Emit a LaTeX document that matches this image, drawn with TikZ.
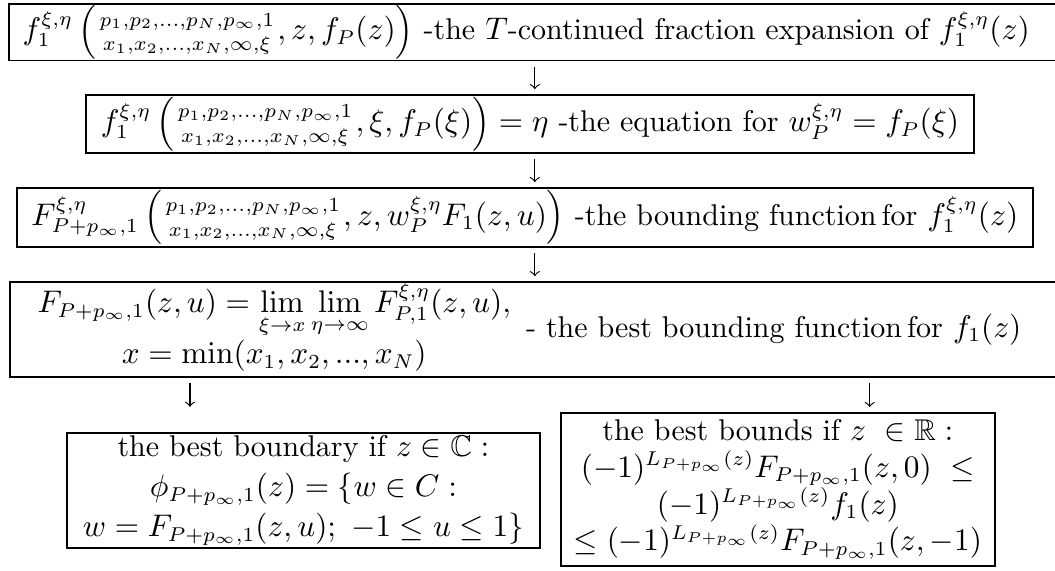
\documentclass[tikz,border=0pt]{standalone}
\usepackage{amsmath,amssymb}
\newcommand{\fracargs}{\genfrac{}{}{0pt}{1}{p_1,p_2,...,p_N,p_\infty,1}{x_1,x_2,...,x_N,\infty,\xi}}
\newcommand{\Lsign}{(-1)^{L_{P+p_\infty}(z)}}

\begin{document}
\begin{tikzpicture}[
  box/.style={draw,line width=0.6pt,inner sep=0pt,align=center,
    font=\fontsize{10.5}{12.9}\selectfont},
  widebox/.style={draw,line width=0.6pt,anchor=west,align=left,
    text width=13.2cm,inner ysep=0pt,font=\fontsize{10.5}{12.9}\selectfont},
  arr/.style={-to,shorten <=0.07cm,shorten >=0.06cm}]
  \useasboundingbox (0,0) rectangle (12.98,-7.02);
  \node[widebox,inner xsep=0.17cm,minimum height=0.70cm] (b1) at (0.098,-0.395)
    {$f_1^{\xi,\eta}\,\Bigl(\fracargs, z, f_P(z)\Bigr)$ -the $T$-continued fraction expansion of $f_1^{\xi,\eta}(z)$};
  \node[box,minimum width=10.92cm,minimum height=0.713cm] (b2) at (6.52,-1.525)
    {$f_1^{\xi,\eta}\,\Bigl(\fracargs, \xi, f_P(\xi)\Bigr) = \eta$ -the equation for $w_P^{\xi,\eta} = f_P(\xi)$};
  \node[box,minimum width=12.497cm,minimum height=0.726cm] (b3) at (6.457,-2.675)
    {$F^{\xi,\eta}_{P+p_\infty,1}\,\Bigl(\fracargs, z, w_P^{\xi,\eta}F_1(z,u)\Bigr)$ -the bounding function\,for $f_1^{\xi,\eta}(z)$};
  \node[widebox,inner xsep=0.34cm,minimum height=1.168cm] (b4) at (0.111,-4.053)
    {$\begin{array}{@{}c@{}}
      F_{P+p_\infty,1}(z,u) = \lim\limits_{\xi\to x}\lim\limits_{\eta\to\infty} F^{\xi,\eta}_{P,1}(z,u),\\
      x = \min(x_1, x_2, ..., x_N)
     \end{array}$\enspace - the best bounding function\,for $f_1(z)$};
  \node[box,minimum width=5.818cm,minimum height=1.414cm] (b5) at (3.733,-6.033)
    {the best boundary if $z \in \mathbb{C}:$\\[1pt]
     $\phi_{P+p_\infty,1}(z) = \{w \in C:$\\[1pt]
     $w = F_{P+p_\infty,1}(z,u);\ -1 \le u \le 1\}$};
  \node[box,minimum width=5.339cm,minimum height=1.882cm] (b6) at (9.57,-6.021)
    {the best bounds if $z\ \in \mathbb{R}:$\\
     $\Lsign F_{P+p_\infty,1}(z,0)\ \le$\\
     $\Lsign f_1(z)$\\
     $\le \Lsign F_{P+p_\infty,1}(z,-1)$};
  % arrow columns
  \coordinate (mid) at (6.58,0);
  \coordinate (lft) at (2.337,0);
  \coordinate (rgt) at (10.70,0);
  \draw[arr] (b1.south -| mid) -- (b2.north -| mid);
  \draw[arr] (b2.south -| mid) -- (b3.north -| mid);
  \draw[arr] (b3.south -| mid) -- (b4.north -| mid);
  \draw[arr,shorten >=0.31cm] (b4.south -| lft) -- (b5.north -| lft);
  \draw[arr] (b4.south -| rgt) -- (b6.north -| rgt);
\end{tikzpicture}
\end{document}
